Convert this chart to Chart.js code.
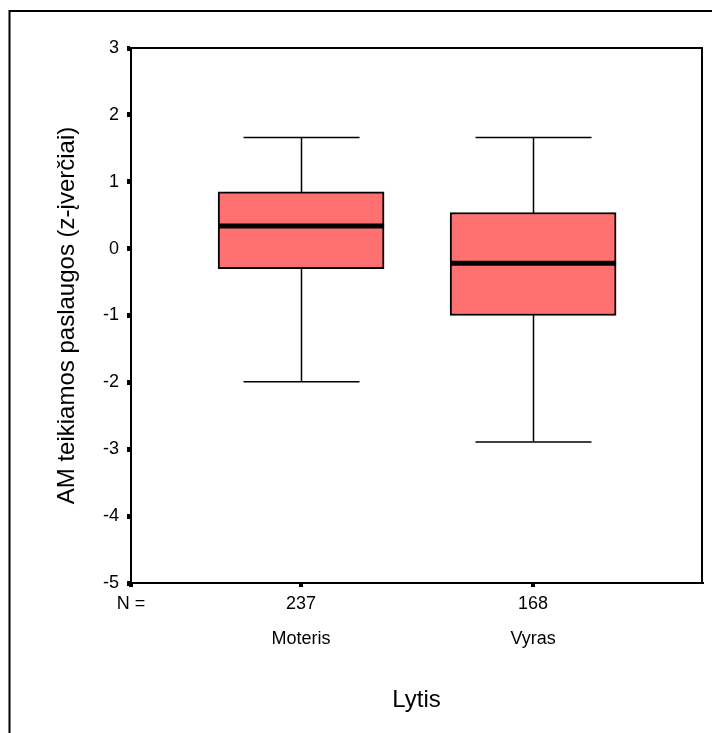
<!DOCTYPE html>
<html>
<head>
<meta charset="utf-8">
<script src="https://cdn.jsdelivr.net/npm/chart.js@4"></script>
<style>
  html, body { margin: 0; padding: 0; background: #fff; }
  #wrap { width: 712px; height: 733px; }
</style>
</head>
<body>
<div id="wrap"><canvas id="boxplot" width="712" height="733"></canvas></div>
<script>
// group values
const groups = ['Moteris', 'Vyras'];
const counts = [237, 168];
const positions = [1, 2];
const whiskerLow = [-1.99, -2.89];
const q1 = [-0.30, -1.00];
const median = [0.34, -0.22];
const q3 = [0.85, 0.54];
const whiskerHigh = [1.66, 1.66];
const yTicks = [-5, -4, -3, -2, -1, 0, 1, 2, 3];

const FONT = "'Liberation Sans', Arial, sans-serif";

// frame round the whole figure + border round the plot
const framePlugin = {
   id: 'frame',
   beforeDraw(chart) {
      const ctx = chart.ctx;
      ctx.save();
      ctx.fillStyle = '#fff';
      ctx.fillRect(0, 0, chart.width, chart.height);
      ctx.strokeStyle = '#000';
      ctx.lineWidth = 2;
      ctx.beginPath();
      ctx.moveTo(9.5, chart.height);
      ctx.lineTo(9.5, 11);
      ctx.lineTo(chart.width, 11);
      ctx.stroke();
      ctx.restore();
   },
   afterDraw(chart) {
      const a = chart.chartArea;
      const ctx = chart.ctx;
      ctx.save();
      ctx.strokeStyle = '#000';
      ctx.lineWidth = 2;
      ctx.beginPath();
      ctx.moveTo(a.left, a.top);
      ctx.lineTo(a.right, a.top);
      ctx.lineTo(a.right, a.bottom);
      ctx.stroke();
      ctx.restore();
   }
};

// whiskers under the boxes, medians on top
const whiskerPlugin = {
   id: 'whiskers',
   beforeDatasetsDraw(chart) {
      const x = chart.scales.x, y = chart.scales.y;
      const ctx = chart.ctx;
      ctx.save();
      ctx.strokeStyle = '#000';
      ctx.lineWidth = 1.5;
      positions.forEach(function (p, i) {
         const cx = Math.round(x.getPixelForValue(p)) + 0.5;
         const lo = y.getPixelForValue(whiskerLow[i]);
         const hi = y.getPixelForValue(whiskerHigh[i]);
         const half = 58;
         ctx.beginPath();
         ctx.moveTo(cx, lo);
         ctx.lineTo(cx, hi);
         ctx.moveTo(cx - half, lo);
         ctx.lineTo(cx + half, lo);
         ctx.moveTo(cx - half, hi);
         ctx.lineTo(cx + half, hi);
         ctx.stroke();
      });
      ctx.restore();
   },
   afterDatasetsDraw(chart) {
      const y = chart.scales.y;
      const meta = chart.getDatasetMeta(0);
      const ctx = chart.ctx;
      ctx.save();
      ctx.strokeStyle = '#000';
      ctx.lineWidth = 5;
      meta.data.forEach(function (bar, i) {
         const my = y.getPixelForValue(median[i]);
         ctx.beginPath();
         ctx.moveTo(bar.x - bar.width / 2, my);
         ctx.lineTo(bar.x + bar.width / 2, my);
         ctx.stroke();
      });
      ctx.restore();
   }
};

const config = {
   type: 'bar',
   data: {
      datasets: [{
         label: 'IQR',
         data: positions.map(function (p, i) { return { x: p, y: [q1[i], q3[i]] }; }),
         backgroundColor: '#ff7070',
         borderColor: '#000',
         borderWidth: 2,
         borderSkipped: false,
         barThickness: 166
      }]
   },
   options: {
      responsive: false,
      animation: false,
      layout: { padding: { left: 0, top: 48, right: 10, bottom: 0 } },
      plugins: {
         legend: { display: false },
         tooltip: { enabled: false }
      },
      scales: {
         x: {
            type: 'linear',
            offset: false,
            min: 0.267,
            max: 2.728,
            afterBuildTicks: function (axis) {
               axis.ticks = [axis.min].concat(positions).map(function (v) { return { value: v }; });
            },
            afterFit: function (axis) { axis.height = 150; },
            border: { display: true, color: '#000', width: 2 },
            grid: { drawOnChartArea: false, offset: false, color: '#000', tickLength: 4, lineWidth: 4 },
            ticks: {
               autoSkip: false,
               maxRotation: 0,
               padding: -1,
               color: '#000',
               font: { family: FONT, size: 18, lineHeight: 1.95 },
               callback: function (value, index) {
                  if (index === 0) return ['N =', ''];
                  return [String(counts[index - 1]), groups[index - 1]];
               }
            },
            title: {
               display: true,
               text: 'Lytis',
               color: '#000',
               font: { family: FONT, size: 24 },
               padding: { top: 0, bottom: 18 }
            }
         },
         y: {
            min: -5,
            max: 3,
            afterBuildTicks: function (axis) {
               axis.ticks = yTicks.map(function (v) { return { value: v }; });
            },
            afterFit: function (axis) { axis.width = 131; },
            border: { display: true, color: '#000', width: 2 },
            grid: { drawOnChartArea: false, color: '#000', tickLength: 4, lineWidth: 5 },
            ticks: {
               padding: 8,
               color: '#000',
               font: { family: FONT, size: 18 }
            },
            title: {
               display: true,
               text: 'AM teikiamos paslaugos (z-įverčiai)',
               color: '#000',
               font: { family: FONT, size: 24 },
               padding: { top: 53, bottom: 0 }
            }
         }
      }
   },
   plugins: [framePlugin, whiskerPlugin]
};

new Chart(document.getElementById('boxplot').getContext('2d'), config);
</script>
</body>
</html>
